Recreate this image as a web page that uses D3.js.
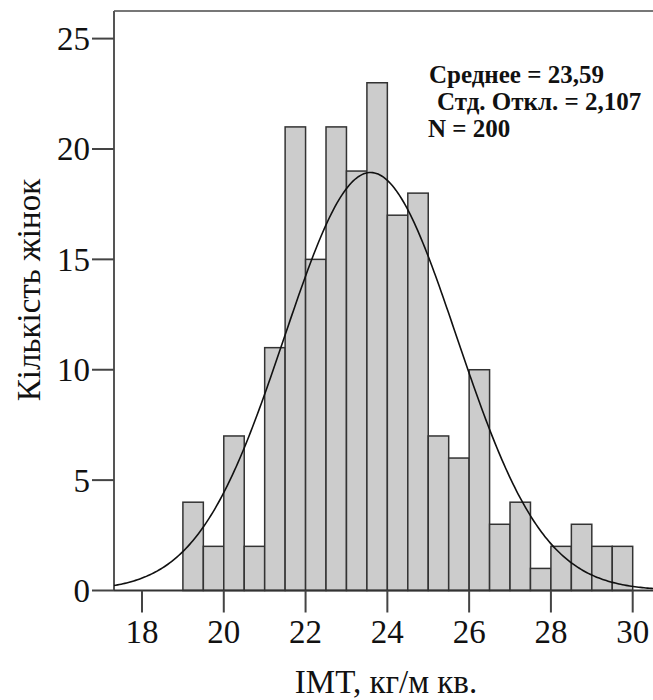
<!DOCTYPE html>
<html><head><meta charset="utf-8">
<script src="https://cdn.jsdelivr.net/npm/d3@7"></script>
<style>html,body{margin:0;padding:0;background:#fff;}svg{display:block;}</style>
</head><body>
<svg id="c" width="653" height="700"></svg>
<script>
// ---- data ----
const binStarts = [19.0,19.5,20.0,20.5,21.0,21.5,22.0,22.5,23.0,23.5,24.0,24.5,25.0,25.5,26.0,26.5,27.0,27.5,28.0,28.5,29.0,29.5];
const counts    = [4,2,7,2,11,21,15,21,19,23,17,18,7,6,10,3,4,1,2,3,2,2];
const binWidth = 0.5;
const xTicks = [18,20,22,24,26,28,30];
const yTicks = [0,5,10,15,20,25];
const statMean = 23.59, statSd = 2.107, statN = 200;
const statLines = ["Среднее = 23,59", "Стд. Откл. = 2,107", "N = 200"];
const statX = [429, 437, 428];
const xTitle = "IMT, кг/м кв.";
const yTitle = "Кількість жінок";

const svg = d3.select("#c");
const font = "Liberation Serif";

const x = d3.scaleLinear().domain([18,30]).range([142,632.7]);
const y = d3.scaleLinear().domain([0,25]).range([590.5,38.6]);
const pLeft = 114, pRight = 653, pTop = 11, pBottom = y(0);

// frame
svg.append("line").attr("x1",pLeft).attr("x2",pRight).attr("y1",pTop).attr("y2",pTop)
  .attr("stroke","#777").attr("stroke-width",2);
svg.append("line").attr("x1",pLeft).attr("x2",pLeft).attr("y1",pTop).attr("y2",pBottom)
  .attr("stroke","#555").attr("stroke-width",2);

// bars
svg.append("g").selectAll("rect").data(binStarts).join("rect")
  .attr("x",(d)=>x(d)).attr("width",(d)=>x(d+binWidth)-x(d))
  .attr("y",(d,i)=>y(counts[i])).attr("height",(d,i)=>y(0)-y(counts[i]))
  .attr("fill","#cccccc").attr("stroke","#333").attr("stroke-width",1.5);

// normal curve from stated statistics
const scaleF = statN*binWidth/(statSd*Math.sqrt(2*Math.PI));
const x0 = x.invert(pLeft), x1 = x.invert(pRight);
const xs = d3.range(0,301).map(i=>x0+(x1-x0)*i/300);
const line = d3.line().x(d=>x(d)).y(d=>y(scaleF*Math.exp(-0.5*Math.pow((d-statMean)/statSd,2))));
svg.append("path").datum(xs).attr("d",line).attr("fill","none").attr("stroke","#111").attr("stroke-width",1.6);

// bottom axis line
svg.append("line").attr("x1",pLeft).attr("x2",pRight).attr("y1",pBottom).attr("y2",pBottom)
  .attr("stroke","#333").attr("stroke-width",2);

// x ticks
const gx = svg.append("g");
gx.selectAll("line").data(xTicks).join("line")
  .attr("x1",d=>x(d)).attr("x2",d=>x(d)).attr("y1",pBottom).attr("y2",pBottom+22)
  .attr("stroke","#444").attr("stroke-width",2);
gx.selectAll("text").data(xTicks).join("text")
  .attr("x",d=>x(d)).attr("y",643)
  .attr("text-anchor","middle").attr("font-family",font).attr("font-size",33).attr("fill","#111")
  .text(d=>d);

// y ticks
const gy = svg.append("g");
gy.selectAll("line").data(yTicks).join("line")
  .attr("x1",pLeft-22).attr("x2",pLeft).attr("y1",d=>y(d)).attr("y2",d=>y(d))
  .attr("stroke","#444").attr("stroke-width",2);
gy.selectAll("text").data(yTicks).join("text")
  .attr("x",90).attr("y",d=>y(d)+11.5)
  .attr("text-anchor","end").attr("font-family",font).attr("font-size",33).attr("fill","#111")
  .text(d=>d);

// titles
svg.append("text").attr("x",386).attr("y",693)
  .attr("text-anchor","middle").attr("font-family",font).attr("font-size",33).attr("fill","#111").text(xTitle);
svg.append("text").attr("transform","translate(40,290) rotate(-90)")
  .attr("text-anchor","middle").attr("font-family",font).attr("font-size",33).attr("fill","#111").text(yTitle);

// stats
svg.append("g").selectAll("text").data(statLines).join("text")
  .attr("x",(d,i)=>statX[i]).attr("y",(d,i)=>83+i*27)
  .attr("font-family",font).attr("font-size",25).attr("font-weight","bold").attr("fill","#111")
  .text(d=>d);
</script>
</body></html>
